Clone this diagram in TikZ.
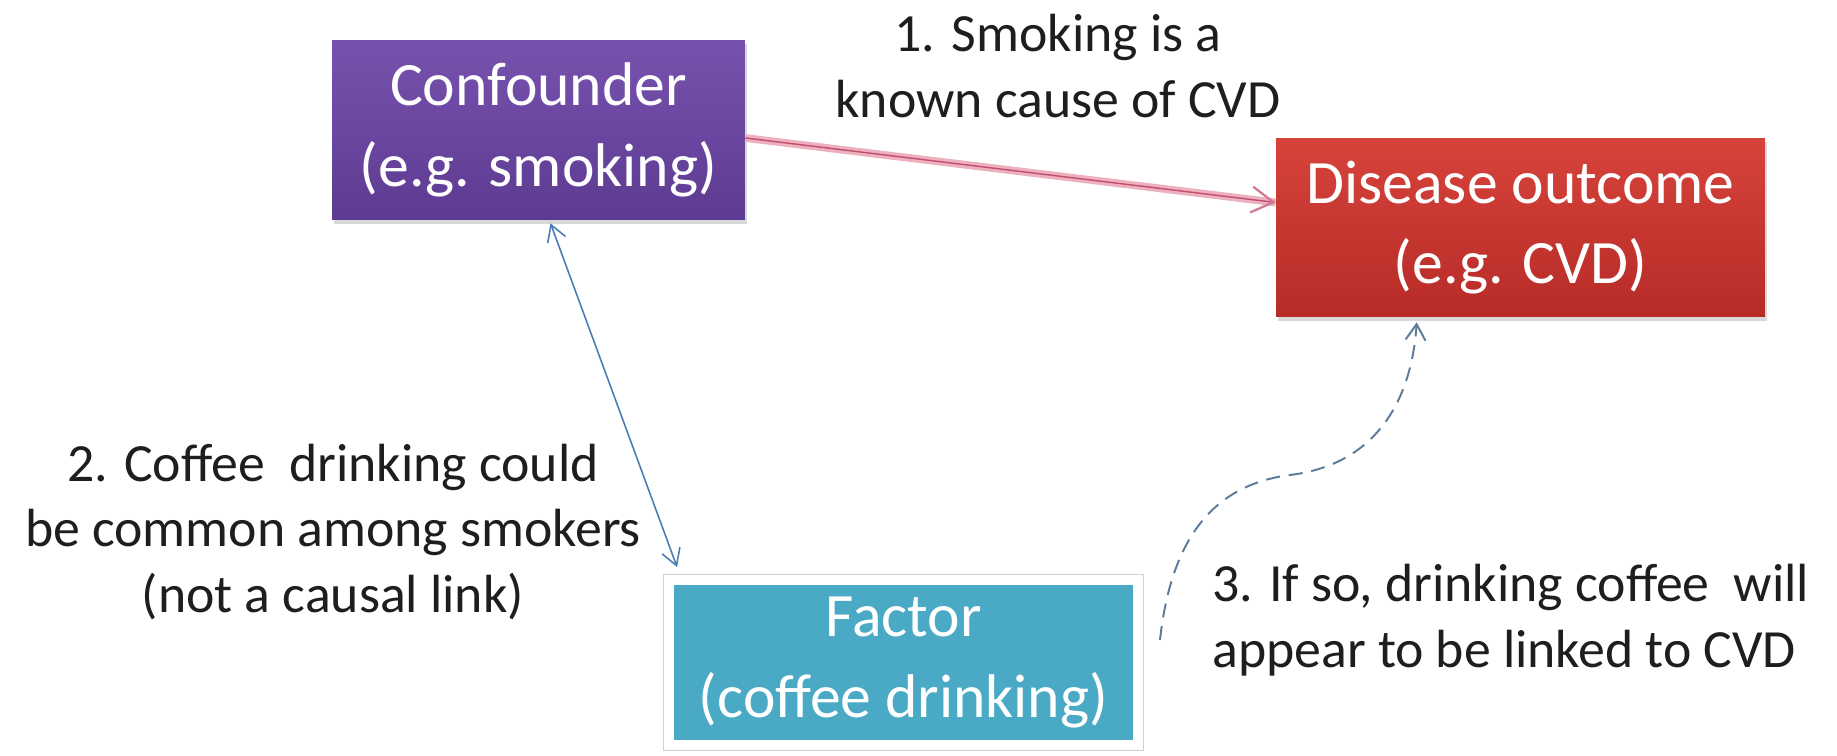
\documentclass[tikz,border=0pt]{standalone}
\usepackage{fontspec}
\setmainfont{Carlito}
\usetikzlibrary{arrows.meta,shadows,calc}
\definecolor{confTop}{HTML}{7652AE}
\definecolor{confBot}{HTML}{5E3B92}
\definecolor{disTop}{HTML}{D6433B}
\definecolor{disBot}{HTML}{B72B27}
\definecolor{tealF}{HTML}{4AAAC5}
\definecolor{txtC}{HTML}{1E1E1E}
\definecolor{pinkGlow}{HTML}{EDB0BE}
\definecolor{pinkCore}{HTML}{C04E70}
\definecolor{blueL}{HTML}{4A7DB5}
\definecolor{dashC}{HTML}{5C7A99}
\tikzset{
  boxnode/.style={rectangle, text=white, align=center, inner sep=0pt,
    font=\fontsize{35.1}{46}\selectfont},
  shadowed/.style={drop shadow={opacity=.3, shadow xshift=.04cm, shadow yshift=-.08cm}},
  lbl/.style={text=txtC, align=center, inner sep=0pt,
    font=\fontsize{30.6}{37.4}\selectfont},
  glowline/.style={draw=pinkGlow, line width=4.4pt},
  coreline/.style={draw=pinkCore, line width=0.8pt,
    -{Straight Barb[length=0.44cm, width=0.52cm, line width=1.3pt, color=pinkCore!75!white]}},
  bluearrow/.style={draw=blueL, line width=0.9pt,
    {Straight Barb[length=0.32cm, width=0.38cm]}-{Straight Barb[length=0.32cm, width=0.38cm]}},
  dasharrow/.style={draw=dashC, line width=1.1pt, dash pattern=on 8pt off 5pt,
    -{Straight Barb[length=0.32cm, width=0.4cm, line width=1.1pt]}}
}
\begin{document}
\begin{tikzpicture}[x=0.02cm, y=-0.02cm]
\useasboundingbox (0,0) rectangle (1837,756);
\fill[white] (0,0) rectangle (1837,756);

% boxes
\node[boxnode, shadowed, top color=confTop, bottom color=confBot,
  minimum width=8.26cm, minimum height=3.6cm] (conf) at (538.5,130)
  {Confounder\\(e.g. smoking)};
\node[boxnode, shadowed, top color=disTop, bottom color=disBot,
  minimum width=9.78cm, minimum height=3.58cm] (dis) at (1520.5,227.5)
  {Disease outcome\\(e.g. CVD)};
\node[boxnode, fill=tealF, draw=white, line width=0.2cm,
  preaction={draw=black!18, line width=0.24cm},
  minimum width=9.38cm, minimum height=3.3cm] (fac) at (903.5,662.5)
  {Factor\\(coffee drinking)};

% labels
\node[lbl] (t1) at (1058,66) {1. Smoking is a\\known cause of CVD};
\node[lbl] (t2) at (333,532) {2. Coffee~ drinking could\\be common among smokers\\(not a causal link)};
\node[lbl, align=left, anchor=west] (t3) at (1212,620) {3. If so, drinking coffee~ will\\appear to be linked to CVD};

% connectors
\coordinate (rs) at ($(conf.east)+(0,8)$);
\coordinate (re) at ($(dis.west)+(0,-25)$);
\draw[glowline] (rs) -- (re);
\draw[coreline] (rs) -- (re);

\coordinate (bs) at ($(conf.south)+(12,3)$);
\coordinate (be) at ($(fac.north west)+(13,-8)$);
\draw[bluearrow] (bs) -- (be);

\coordinate (ds) at (1160,640);
\coordinate (de) at ($(dis.south west)+(141,5)$);
\draw[dasharrow] (ds) .. controls (1172,530) and (1220,484) .. (1290,475)
  .. controls (1380,464) and (1412,395) .. (de);
\end{tikzpicture}
\end{document}
